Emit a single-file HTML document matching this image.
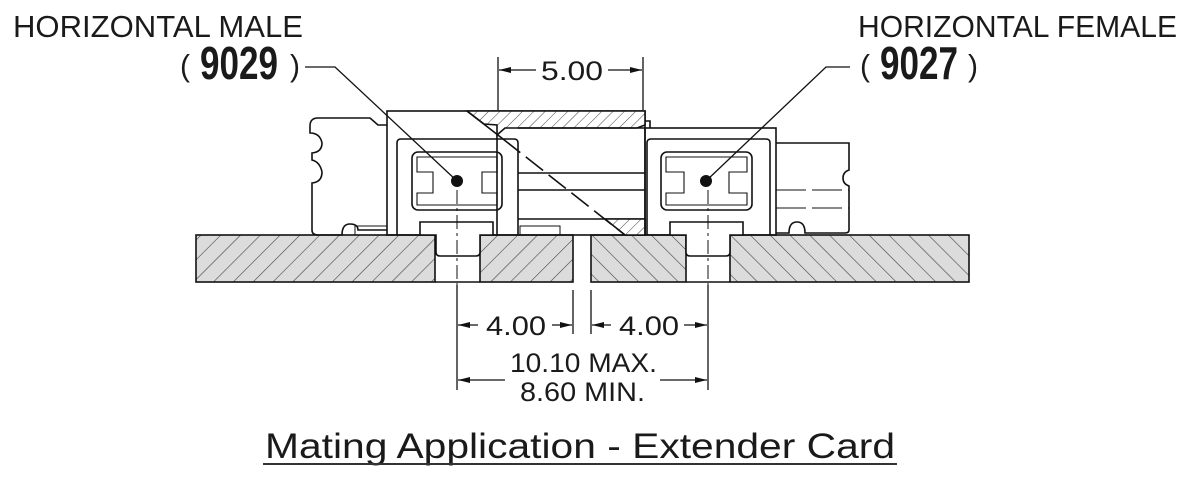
<!DOCTYPE html>
<html><head><meta charset="utf-8"><style>
html,body{margin:0;padding:0;background:#fff;width:1200px;height:481px;overflow:hidden}
svg{display:block}
text{font-family:"Liberation Sans",sans-serif;fill:#1a1a1a}
</style></head><body>
<svg width="1200" height="481" viewBox="0 0 1200 481" xmlns="http://www.w3.org/2000/svg">
<defs>
<pattern id="hl" patternUnits="userSpaceOnUse" width="14" height="14" patternTransform="rotate(45)">
<rect width="14" height="14" fill="#dcdcdc"/><line x1="0" y1="0" x2="0" y2="14" stroke="#444" stroke-width="1.2"/></pattern>
<pattern id="hr" patternUnits="userSpaceOnUse" width="14" height="14" patternTransform="rotate(-45)">
<rect width="14" height="14" fill="#dcdcdc"/><line x1="0" y1="0" x2="0" y2="14" stroke="#444" stroke-width="1.2"/></pattern>
<pattern id="hw" patternUnits="userSpaceOnUse" width="8" height="8" patternTransform="rotate(45)">
<rect width="8" height="8" fill="#fff"/><line x1="0" y1="0" x2="0" y2="8" stroke="#444" stroke-width="1"/></pattern>
<marker id="ar" markerWidth="12" markerHeight="6" refX="12" refY="3" orient="auto" markerUnits="userSpaceOnUse"><path d="M0,0 L12,3 L0,6z" fill="#111"/></marker>
</defs>
<g fill="none" stroke="#111" stroke-width="1.6">
<!-- boards -->
<rect x="196" y="235" width="239" height="47" fill="url(#hl)"/>
<rect x="480" y="235" width="93" height="47" fill="url(#hl)"/>
<rect x="591" y="235" width="95" height="47" fill="url(#hr)"/>
<rect x="730" y="235" width="239" height="47" fill="url(#hr)"/>
<line x1="435" y1="282" x2="480" y2="282"/>
<line x1="686" y1="282" x2="730" y2="282"/>
<!-- left plug -->
<path d="M387,125 L378,125 L370,118 L318,118 Q310,118 310,126 L310,133 Q320,133 322,143 Q322,152 312,153 L312,160 Q320,162 322,172 Q322,182 312,183 L312,230 Q312,235 318,235 L342,235 Q342,224 350,224 Q358,224 358,230 L387,230"/>
<!-- left housing -->
<rect x="387" y="111" width="258" height="124"/>
<path d="M467,111 L645,111 L645,125 L637,128 L505,128 L497,135 L497,125 L484,124 Z" fill="url(#hw)"/>
<path d="M397,235 L397,143 Q397,139 401,139 L514,139 Q518,139 518,143 L518,235"/>
<path d="M497,135 L497,235 M518,128 L645,128 M518,173 L645,173 M518,219 L645,219 M518,190 L645,190"/>
<path d="M645,121 L650,121 L650,128"/>
<path d="M605,219 L645,219 L645,235 L625,235 Z" fill="url(#hw)"/>
<line x1="467" y1="111" x2="503" y2="139"/>
<line x1="503" y1="139" x2="625" y2="235" stroke-dasharray="22,7"/>
<rect x="412" y="152" width="90" height="58" rx="6"/>
<path d="M417,157 H497 V172 H482 V193 H497 V205 H417 V193 H433 V172 H417 Z" stroke-width="1.1"/>
<path d="M420,222 L493,222 L493,235 L480,235 L480,252 Q480,256 476,256 L440,256 Q436,256 436,252 L436,235 L420,235 Z" fill="#fff"/>
<rect x="355" y="226" width="32" height="9" stroke-width="1"/>
<rect x="520" y="226" width="40" height="9" stroke-width="1"/>
<!-- right housing -->
<rect x="645" y="128" width="131" height="107"/>
<path d="M647,235 L647,143 Q647,139 651,139 L766,139 Q770,139 770,143 L770,235"/>
<rect x="661" y="152" width="91" height="58" rx="6"/>
<path d="M666,157 H747 V172 H729 V193 H747 V205 H666 V193 H684 V172 H666 Z" stroke-width="1.1"/>
<path d="M670,222 L743,222 L743,235 L730,235 L730,252 Q730,256 726,256 L690,256 Q686,256 686,252 L686,235 L670,235 Z" fill="#fff"/>
<path d="M776,143 L849,143 L849,170 Q843,172 843,178 Q843,184 849,186 L849,230 Q849,233 845,233 L805,233 Q805,222 797,222 Q789,222 789,233 L776,233"/>
<path d="M776,190 L849,190 M776,208 L849,208" stroke-dasharray="30,6" stroke-width="1"/>
<!-- center lines -->
<line x1="457" y1="190" x2="457" y2="300" stroke-width="1" stroke-dasharray="14,4,3,4"/>
<line x1="708" y1="190" x2="708" y2="300" stroke-width="1" stroke-dasharray="14,4,3,4"/>
<!-- leaders -->
<polyline points="305,67 335,67 457,181" stroke-width="1.3"/>
<polyline points="850,67 826,67 706,181" stroke-width="1.3"/>
<!-- 5.00 -->
<line x1="498" y1="57" x2="498" y2="110" stroke-width="1.3"/>
<line x1="643" y1="57" x2="643" y2="110" stroke-width="1.3"/>
<line x1="536" y1="70" x2="499" y2="70" stroke-width="1.3" marker-end="url(#ar)"/>
<line x1="608" y1="70" x2="642" y2="70" stroke-width="1.3" marker-end="url(#ar)"/>
<!-- bottom dims -->
<g stroke-width="1.3">
<line x1="457" y1="285" x2="457" y2="390"/>
<line x1="708" y1="285" x2="708" y2="390"/>
<line x1="573" y1="290" x2="573" y2="334"/>
<line x1="591" y1="290" x2="591" y2="334"/>
<line x1="478" y1="325" x2="458" y2="325" marker-end="url(#ar)"/>
<line x1="552" y1="325" x2="572" y2="325" marker-end="url(#ar)"/>
<line x1="611" y1="325" x2="592" y2="325" marker-end="url(#ar)"/>
<line x1="684" y1="325" x2="707" y2="325" marker-end="url(#ar)"/>
<line x1="505" y1="380" x2="458" y2="380" marker-end="url(#ar)"/>
<line x1="660" y1="380" x2="707" y2="380" marker-end="url(#ar)"/>
</g>
</g>
<circle cx="457" cy="181" r="6" fill="#111"/>
<circle cx="706" cy="181" r="6" fill="#111"/>
<g font-size="31">
<text x="13" y="37" textLength="290" lengthAdjust="spacingAndGlyphs">HORIZONTAL MALE</text>
<text x="858" y="37" textLength="319" lengthAdjust="spacingAndGlyphs">HORIZONTAL FEMALE</text>
<text x="180" y="76" textLength="10" lengthAdjust="spacingAndGlyphs">(</text>
<text x="290" y="76" textLength="10" lengthAdjust="spacingAndGlyphs">)</text>
<text x="860" y="76" textLength="10" lengthAdjust="spacingAndGlyphs">(</text>
<text x="968" y="76" textLength="10" lengthAdjust="spacingAndGlyphs">)</text>
</g>
<g font-size="46" font-weight="bold">
<text x="200" y="79" textLength="78" lengthAdjust="spacingAndGlyphs">9029</text>
<text x="880" y="79" textLength="78" lengthAdjust="spacingAndGlyphs">9027</text>
</g>
<g font-size="27">
<text x="541" y="80" textLength="62" lengthAdjust="spacingAndGlyphs">5.00</text>
<text x="486" y="335" textLength="60" lengthAdjust="spacingAndGlyphs">4.00</text>
<text x="619" y="335" textLength="60" lengthAdjust="spacingAndGlyphs">4.00</text>
<text x="510" y="372" textLength="147" lengthAdjust="spacingAndGlyphs">10.10 MAX.</text>
<text x="520" y="401" textLength="125" lengthAdjust="spacingAndGlyphs">8.60 MIN.</text>
</g>
<text x="265" y="458" font-size="35" textLength="630" lengthAdjust="spacingAndGlyphs">Mating Application - Extender Card</text>
<line x1="263" y1="464" x2="897" y2="464" stroke="#333" stroke-width="2"/>
</svg>
</body></html>
